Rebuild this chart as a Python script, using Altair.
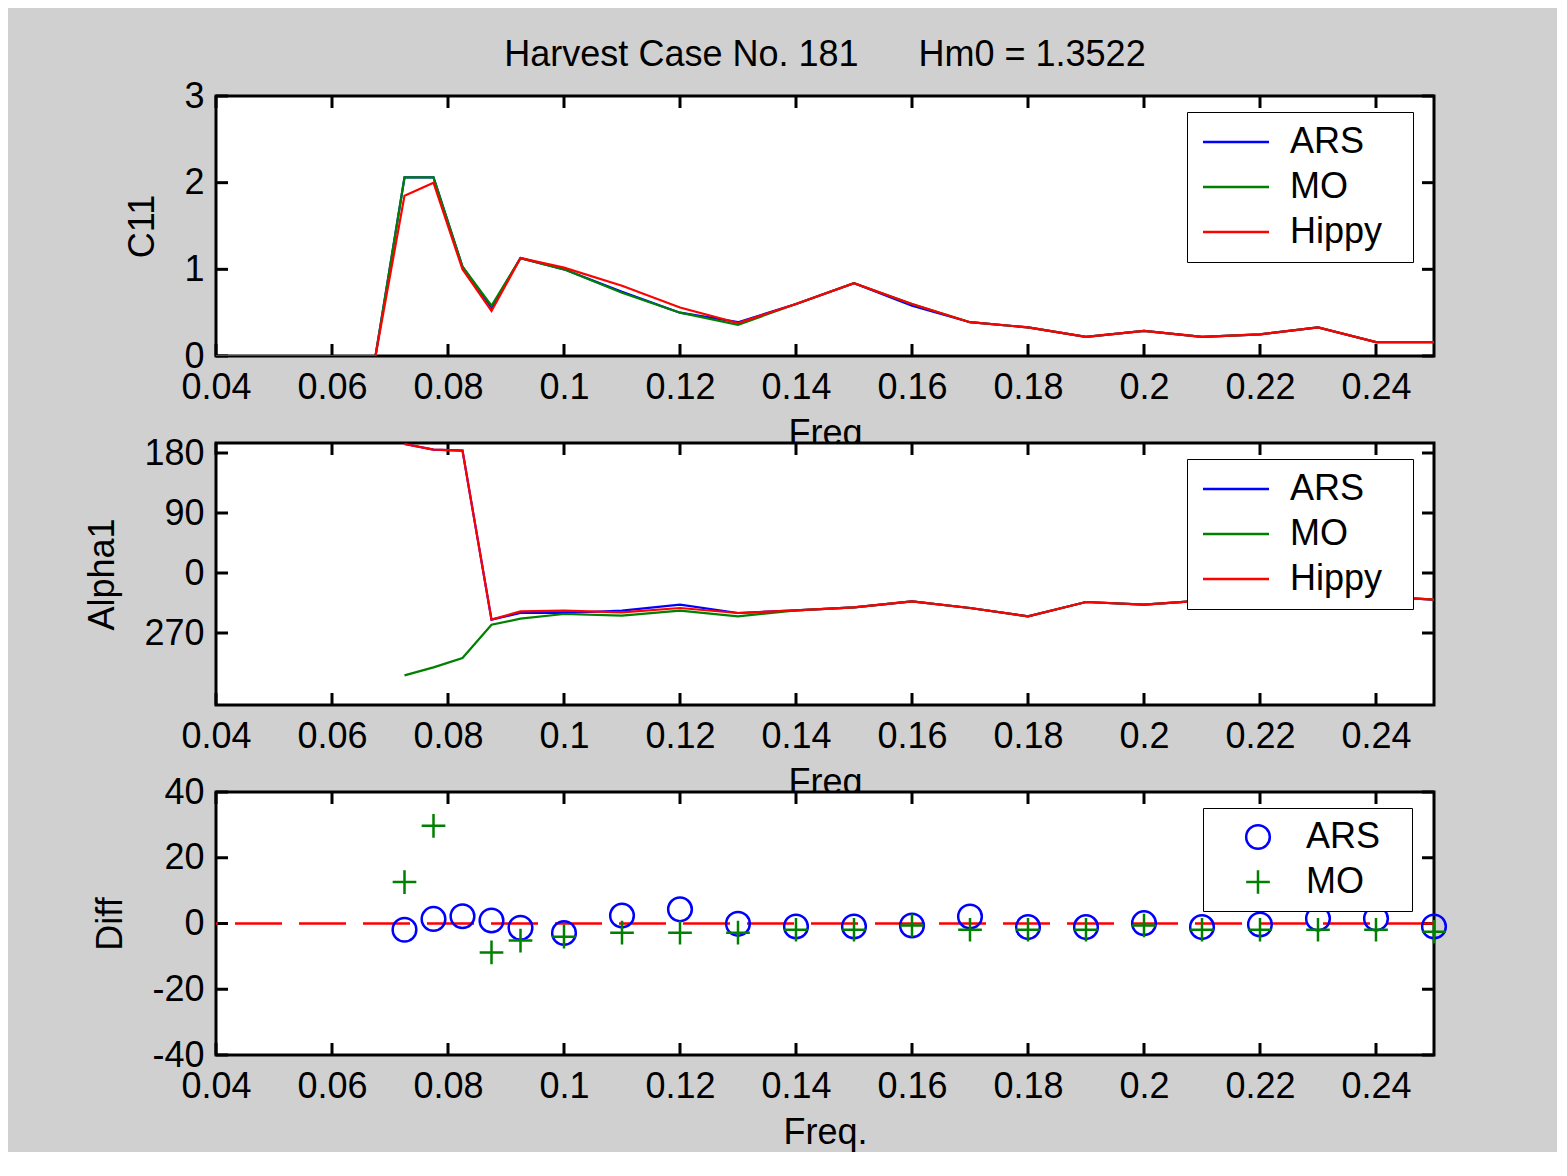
import altair as alt
import pandas as pd

FONT = "Liberation Sans, Arial, Helvetica, sans-serif"
FS = 36

title_text = "Harvest Case No. 181\u00a0\u00a0\u00a0\u00a0\u00a0\u00a0Hm0 = 1.3522"

series_names = ["ARS", "MO", "Hippy"]
series_colors = ["#0000ff", "#008000", "#ff0000"]

freq_c11 = [0.0375, 0.0425, 0.0475, 0.0525, 0.0575, 0.0625, 0.0675, 0.0725, 0.0775, 0.0825,
            0.0875, 0.0925, 0.10, 0.11, 0.12, 0.13, 0.14, 0.15, 0.16, 0.17, 0.18, 0.19, 0.20,
            0.21, 0.22, 0.23, 0.24, 0.25]
c11_ars = [0, 0, 0, 0, 0, 0, 0, 2.06, 2.06, 1.03, 0.56, 1.13, 1.00, 0.74, 0.50, 0.39, 0.60,
           0.84, 0.58, 0.39, 0.33, 0.22, 0.29, 0.22, 0.25, 0.33, 0.16, 0.16]
c11_mo = [0, 0, 0, 0, 0, 0, 0, 2.06, 2.06, 1.03, 0.58, 1.13, 1.00, 0.73, 0.50, 0.36, 0.60,
          0.84, 0.60, 0.39, 0.33, 0.22, 0.29, 0.22, 0.25, 0.33, 0.16, 0.16]
c11_hippy = [0, 0, 0, 0, 0, 0, 0, 1.85, 2.00, 1.00, 0.52, 1.13, 1.02, 0.81, 0.56, 0.38, 0.60,
             0.84, 0.60, 0.39, 0.33, 0.22, 0.29, 0.22, 0.25, 0.33, 0.16, 0.16]

freq_dir = [0.0725, 0.0775, 0.0825, 0.0875, 0.0925, 0.10, 0.11, 0.12, 0.13, 0.14, 0.15, 0.16,
            0.17, 0.18, 0.19, 0.20, 0.21, 0.22, 0.23, 0.24, 0.25]
alpha_ars = [193.5, 185, 183.5, -70, -60, -60, -56.5, -47.5, -60, -56, -51.5, -42.5, -52.5,
             -65, -43.5, -47.5, -41.5, -38, -36, -35, -40]
alpha_mo = [-153.5, -141.5, -127.5, -77.5, -68.5, -61.5, -64, -56.5, -65, -56, -51.5, -42.5,
            -52.5, -65, -43.5, -47.5, -41.5, -38, -36, -35, -40]
alpha_hippy = [193.5, 185, 183.5, -70, -57.5, -56.5, -59, -52.5, -60, -56, -51.5, -42.5, -52.5,
               -65, -43.5, -47.5, -41.5, -38, -36, -35, -40]

diff_ars = [-1.9, 1.4, 2.2, 0.9, -1.3, -2.9, 2.4, 4.3, -0.1, -0.9, -0.9, -0.6, 2.1, -1.1, -1.1,
            0.1, -1.1, -0.3, 1.5, 1.5, -0.9]
diff_mo = [12.6, 29.7, None, -8.8, -5.2, -4.0, -2.8, -2.8, -2.8, -1.9, -1.9, -0.6, -1.9, -1.9,
           -1.9, -0.6, -1.9, -1.9, -1.9, -1.9, -2.5]

x_ticks = [0.04, 0.06, 0.08, 0.10, 0.12, 0.14, 0.16, 0.18, 0.20, 0.22, 0.24]
c11_ticks = [0, 1, 2, 3]
alpha_ticks = [-90, 0, 90, 180]
diff_ticks = [-40, -20, 0, 20, 40]

W = 1218
H1, H2, H3 = 260, 262, 263
TL = 12  # inward tick length


def long_df(freq, cols):
    rows = []
    for name, vals in cols:
        for f, v in zip(freq, vals):
            if v is not None:
                rows.append({"f": f, "val": v, "series": name})
    return pd.DataFrame(rows)


df_c11 = long_df(freq_c11, [("ARS", c11_ars), ("MO", c11_mo), ("Hippy", c11_hippy)])
df_alpha = long_df(freq_dir, [("ARS", alpha_ars), ("MO", alpha_mo), ("Hippy", alpha_hippy)])
df_diff = long_df(freq_dir, [("ARS", diff_ars), ("MO", diff_mo)])


def xenc(title):
    return alt.X("f:Q", scale=alt.Scale(domain=[0.04, 0.25], nice=False, zero=False),
                 axis=alt.Axis(values=x_ticks, format=".2~f", title=title))


def yenc(domain, ticks, title, label_expr):
    return alt.Y("val:Q", scale=alt.Scale(domain=domain, nice=False, zero=False),
                 axis=alt.Axis(values=ticks, title=title, labelExpr=label_expr))


def tick_layers(x_e, y_e, yticks, h):
    xt = pd.DataFrame({"f": x_ticks})
    yt = pd.DataFrame({"val": yticks})
    rule = dict(color="black", strokeWidth=3)
    return [
        alt.Chart(xt).mark_rule(**rule).encode(x=x_e, y=alt.value(0), y2=alt.value(TL)),
        alt.Chart(xt).mark_rule(**rule).encode(x=x_e, y=alt.value(h - TL), y2=alt.value(h)),
        alt.Chart(yt).mark_rule(**rule).encode(y=y_e, x=alt.value(0), x2=alt.value(TL)),
        alt.Chart(yt).mark_rule(**rule).encode(y=y_e, x=alt.value(W - TL), x2=alt.value(W)),
    ]


def line_legend():
    # an invisible title on the right only widens the legend box
    return alt.Legend(title="W", titleOrient="right", titleOpacity=0, titleFontSize=18,
                      titlePadding=2,
                      orient="none", legendX=971, legendY=16,
                      symbolType="M-3,0L3,0", symbolSize=484, symbolStrokeWidth=2.5,
                      symbolOffset=19, labelOffset=36, padding=12, rowPadding=9,
                      labelFontSize=FS, labelFont=FONT, labelColor="black",
                      strokeColor="black", fillColor="white")


def line_panel(df, x_e, y_e, yticks, h, clip, title=None):
    layers = tick_layers(x_e, y_e, yticks, h)
    color = alt.Color("series:N", scale=alt.Scale(domain=series_names, range=series_colors),
                      legend=line_legend())
    for name in series_names:
        layers.append(
            alt.Chart(df).transform_filter(alt.datum.series == name)
            .mark_line(strokeWidth=2.2, clip=clip)
            .encode(x=x_e, y=y_e, color=color, order="f:Q")
        )
    props = dict(width=W, height=h)
    if title is not None:
        props["title"] = title
    return alt.layer(*layers).properties(**props)


title = alt.TitleParams(text=title_text, font=FONT, fontSize=FS, fontWeight="normal",
                        color="black", anchor="middle", frame="group", offset=4)

x1 = xenc("Freq")
y1 = yenc([0, 3], c11_ticks, "C11", "datum.label")
p1 = line_panel(df_c11, x1, y1, c11_ticks, H1, True, title)

x2 = xenc("Freq")
y2 = yenc([-198, 195], alpha_ticks, "Alpha1",
          "datum.value < 0 ? '' + (datum.value + 360) : '' + datum.value")
p2 = line_panel(df_alpha, x2, y2, alpha_ticks, H2, False)

x3 = xenc("Freq.")
y3 = yenc([-40, 40], diff_ticks, "Diff", "'' + datum.value")
leg3 = alt.Legend(title="W", titleOrient="right", titleOpacity=0, titleFontSize=20,
                  titlePadding=2,
                  orient="none", legendX=987, legendY=16,
                  symbolStrokeWidth=2.5, symbolSize=560, symbolOffset=26, labelOffset=30,
                  symbolOpacity=1,
                  padding=11, rowPadding=9, labelFontSize=FS, labelFont=FONT,
                  labelColor="black", strokeColor="black", fillColor="white")
zero_line = alt.Chart(pd.DataFrame({"val": [0]})).mark_rule(
    color="#ff0000", strokeWidth=2.5, strokeDash=[47, 17]).encode(y=y3)
points = alt.Chart(df_diff).mark_point(filled=False, size=560, strokeWidth=2.5, opacity=1).encode(
    x=x3, y=y3,
    color=alt.Color("series:N", scale=alt.Scale(domain=["ARS", "MO"], range=["#0000ff", "#008000"]),
                    legend=leg3),
    shape=alt.Shape("series:N", scale=alt.Scale(domain=["ARS", "MO"],
                                                range=["circle", "M-1,0L1,0M0,-1L0,1"]),
                    legend=leg3),
)
p3 = alt.layer(*tick_layers(x3, y3, diff_ticks, H3), zero_line, points).properties(width=W, height=H3)

chart = (
    alt.vconcat(p1, p2, p3, spacing=87, bounds="flush")
    .resolve_scale(color="independent", shape="independent")
    .properties(background="#d0d0d0",
                padding={"left": 75, "top": 27, "right": 104, "bottom": 0})
    .configure(font=FONT)
    .configure_view(fill="white", stroke="black", strokeWidth=3)
    .configure_axis(domain=False, ticks=False, grid=False, labelFont=FONT, labelFontSize=FS,
                    labelColor="black", labelPadding=14, titleFont=FONT, titleFontSize=FS,
                    titleFontWeight="normal", titleColor="black", titlePadding=11,
                    labelFlush=False, labelOverlap=False)
    .configure_axisY(titlePadding=22, labelPadding=12)
)

chart.save("out.html", embed_options={"renderer": "svg", "actions": False})
